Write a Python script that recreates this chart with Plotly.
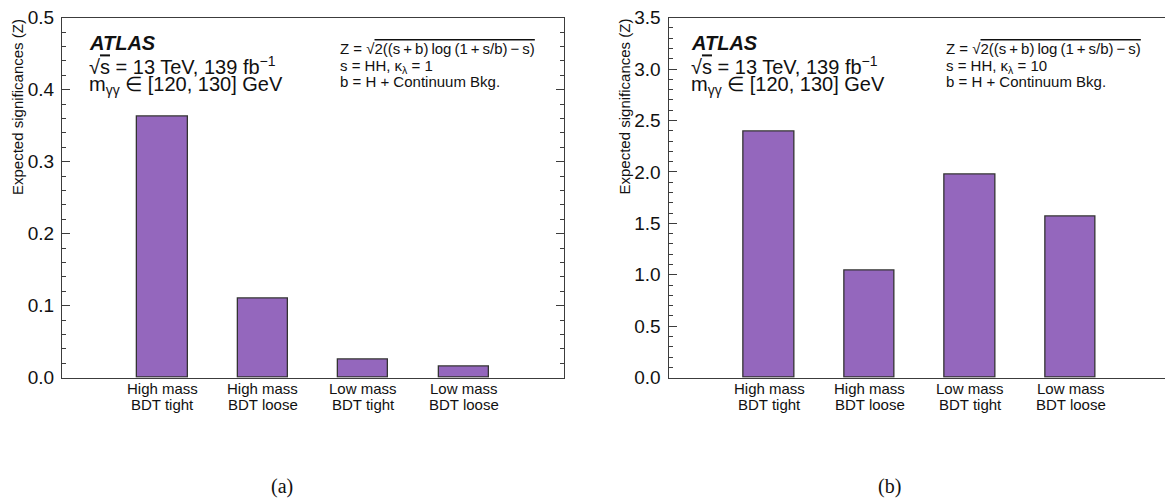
import plotly.graph_objects as go

# Category names (two text lines each) and expected significances
label_top = ["High mass", "High mass", "Low mass", "Low mass"]
label_bottom = ["BDT tight", "BDT loose", "BDT tight", "BDT loose"]
z_kl1 = [0.362, 0.110, 0.025, 0.016]     # s = HH, kappa_lambda = 1
z_kl10 = [2.39, 1.04, 1.97, 1.57]        # s = HH, kappa_lambda = 10

y_ticks_a = [0.0, 0.1, 0.2, 0.3, 0.4, 0.5]
y_ticks_b = [0.0, 0.5, 1.0, 1.5, 2.0, 2.5, 3.0, 3.5]

W, H = 1165, 499
SANS = "Liberation Sans, Arial, Helvetica, sans-serif"
SERIF = "Liberation Serif, Times New Roman, serif"
FRAME = "#3c3c3c"
BAR = "#9467bd"
THIN = "\u2009"


def px(x):
    return x / W


def py(y):
    return 1 - y / H


fig = go.Figure()
pos = list(range(len(label_top)))

for vals, xa, ya in [(z_kl1, "x", "y"), (z_kl10, "x2", "y2")]:
    fig.add_trace(go.Bar(
        x=pos, y=vals, xaxis=xa, yaxis=ya, width=0.5,
        marker=dict(color=BAR, line=dict(color="#333333", width=1.3)),
        showlegend=False, hoverinfo="skip",
    ))

ydom = [py(377.7), py(17.6)]


def yaxis_style(ticks, minor_step, rng, mirror):
    return dict(
        domain=ydom, range=rng, tickvals=ticks,
        ticktext=[f"{t:.1f}" for t in ticks],
        ticks="inside", ticklen=8, tickwidth=1, tickcolor=FRAME,
        minor=dict(ticks="inside", ticklen=4, tickwidth=1, tickcolor=FRAME,
                   dtick=minor_step),
        showline=True, linecolor=FRAME, linewidth=1.3, mirror=mirror,
        showgrid=False, zeroline=False,
        tickfont=dict(family=SANS, size=19, color="#111"),
        ticklabelstandoff=3, fixedrange=True,
    )


def xaxis_style(dom, rng, anchor):
    return dict(
        domain=dom, range=rng, anchor=anchor,
        showline=True, linecolor=FRAME, linewidth=1.3, mirror=True,
        ticks="", showticklabels=False, showgrid=False, zeroline=False,
        fixedrange=True,
    )


fig.update_layout(
    width=W, height=H,
    margin=dict(l=0, r=0, t=0, b=0, autoexpand=False),
    paper_bgcolor="white", plot_bgcolor="white",
    xaxis=xaxis_style([px(62), px(564)], [-1, 4], "y"),
    yaxis=yaxis_style(y_ticks_a, 0.02, [0, 0.5], "ticks"),
    xaxis2=xaxis_style([px(668.5), 1.0], [-1, 3.94], "y2"),
    yaxis2=dict(yaxis_style(y_ticks_b, 0.1, [0, 3.5], False), anchor="x2"),
    bargap=0,
)

ann = []


def text(x, y, s, size, xanchor="left", yanchor="middle", family=SANS,
         **kw):
    ann.append(dict(x=x, y=y, xref="paper", yref="paper", text=s,
                    showarrow=False, xanchor=xanchor, yanchor=yanchor,
                    font=dict(family=family, size=size, color="#111"), **kw))


OVER = "<span style='text-decoration:overline'>{}</span>"
formula = ("2((s" + THIN + "+" + THIN + "b)" + THIN + "log" + THIN + "(1"
           + THIN + "+" + THIN + "s/b)" + THIN + "−" + THIN + "s)")

panels = [
    dict(axis=62, xaxis="x", kl="1", atlas=86.8, label="(a)", lab_x=282),
    dict(axis=668.5, xaxis="x2", kl="10", atlas=689, label="(b)", lab_x=889),
]

for p in panels:
    a = p["axis"]
    # axis title
    text(px(a - 45), py(17), "Expected significances (Z)", 15,
         xanchor="center", yanchor="top", textangle=-90)
    # experiment block
    text(px(p["atlas"]), py(42.7), "<b><i>ATLAS</i></b>", 20)
    text(px(p["atlas"]), py(65),
         "√" + OVER.format("s") + " = 13 TeV, 139 fb<sup>−1</sup>", 20)
    text(px(p["atlas"]), py(85.5),
         "m<sub>γγ</sub> ∈ [120, 130] GeV", 20)
    # significance definition
    fx = a + 275.5
    text(px(fx), py(49), "Z = √" + OVER.format(formula), 15)
    text(px(fx), py(66), "s = HH, κ<sub>λ</sub> = " + p["kl"], 15)
    text(px(fx), py(82), "b = H + Continuum Bkg.", 15)
    # category labels under the bars
    for i in pos:
        ann.append(dict(x=i, y=py(388), xref=p["xaxis"], yref="paper",
                        text=label_top[i], showarrow=False,
                        xanchor="center", yanchor="middle",
                        font=dict(family=SANS, size=15, color="#111")))
        ann.append(dict(x=i, y=py(404), xref=p["xaxis"], yref="paper",
                        text=label_bottom[i], showarrow=False,
                        xanchor="center", yanchor="middle",
                        font=dict(family=SANS, size=15, color="#111")))
    # panel label
    text(px(p["lab_x"]), py(486), p["label"], 20, xanchor="center",
         family=SERIF)

fig.update_layout(annotations=ann)
fig.write_html("out.html")
